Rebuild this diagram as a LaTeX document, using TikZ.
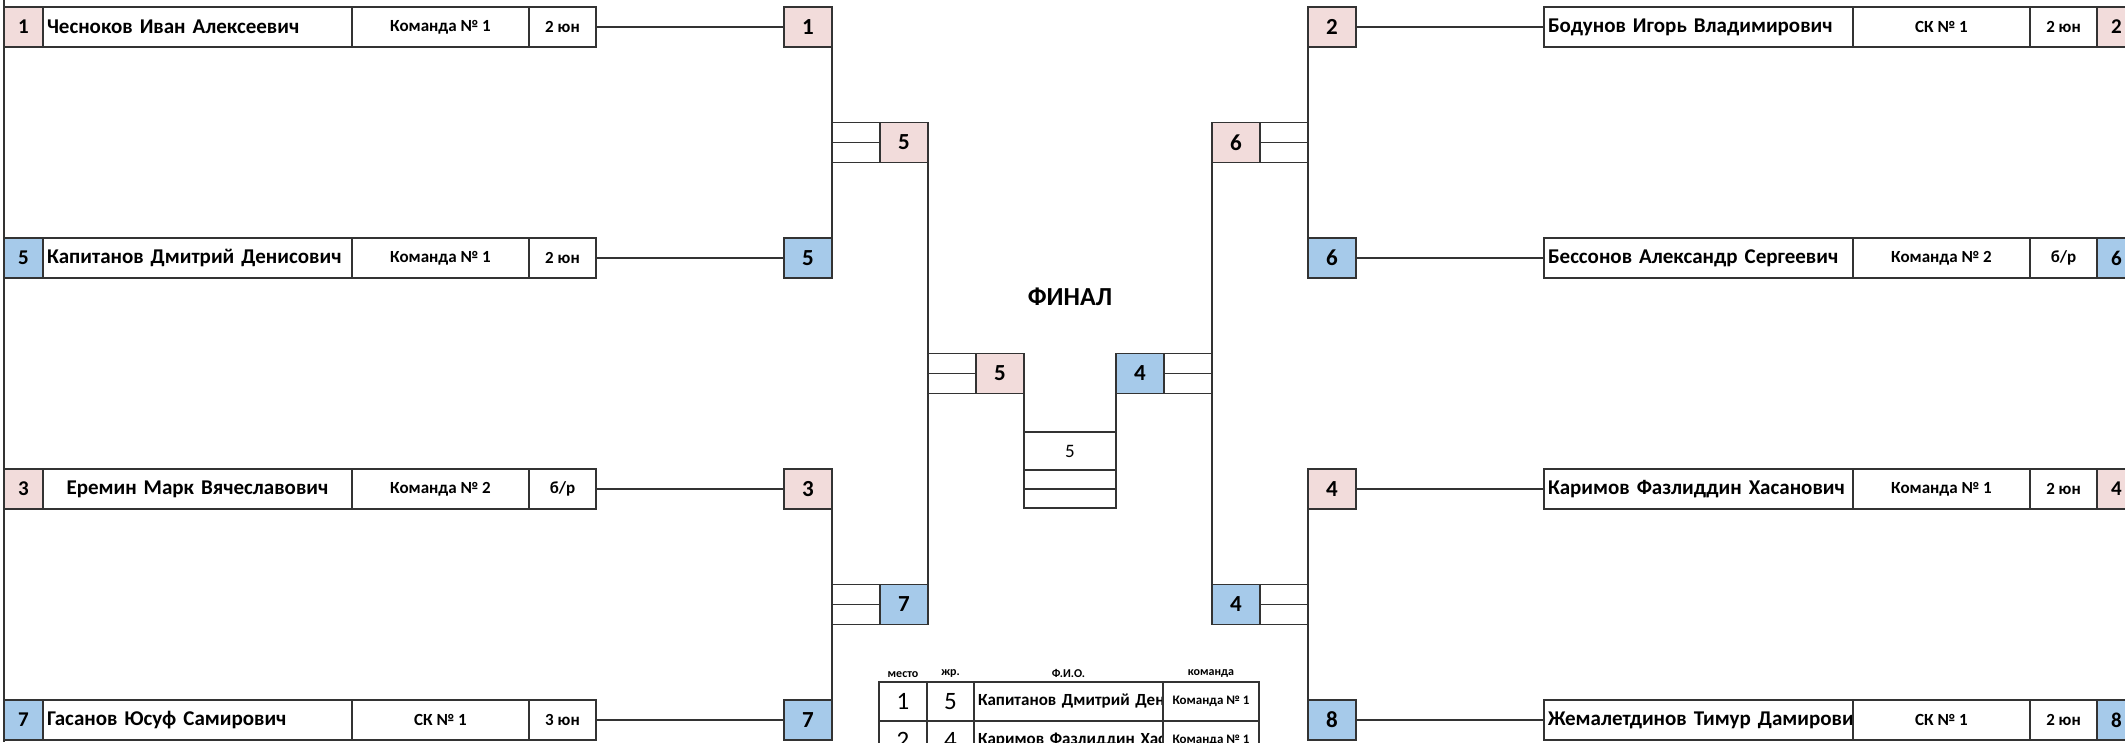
\documentclass[tikz,border=0pt]{standalone}
\usepackage{fontspec}
\setmainfont{Carlito}
\usepackage{xcolor}
\usepackage{tikz}
\usetikzlibrary{positioning}
\definecolor{ink}{HTML}{333333}
\definecolor{pinkbg}{HTML}{F2DCDB}
\definecolor{bluebg}{HTML}{A6CAEA}

\begin{document}
\begin{tikzpicture}[x=1pt,y=-1pt,
  cell/.style={draw=ink,fill=white,line width=1.6pt,minimum height=40pt,inner sep=0pt,
               outer sep=0pt,font=\bfseries\fontsize{21}{25}\selectfont},
  seed/.style={cell,minimum width=39pt},
  fio/.style={cell,text width=301pt,inner xsep=4pt,align=left},
  team/.style={cell,minimum width=177pt,font=\bfseries\fontsize{17}{20}\selectfont},
  res/.style={cell,minimum width=67pt,font=\bfseries\fontsize{17}{20}\selectfont},
  num/.style={cell,minimum width=48pt,font=\bfseries\fontsize{23}{27}\selectfont},
  half/.style={draw=ink,line width=1.6pt,minimum width=48pt,minimum height=20pt,
               inner sep=0pt,outer sep=0pt},
  pink/.style={fill=pinkbg},
  blue/.style={fill=bluebg},
  link/.style={draw=ink,line width=1.6pt},
  head/.style={font=\bfseries\fontsize{12}{14}\selectfont,inner sep=1pt},
  tcell/.style={cell,minimum height=39pt,font=\fontsize{25}{29}\selectfont}
]
\path[use as bounding box,fill=white] (0,0) rectangle (2125,742);

% left half
\node[seed,pink] (ls1) at (23.5,27) {1};
\node[fio,right=0pt of ls1] (lf1) {Чесноков Иван Алексеевич};
\node[team,right=0pt of lf1] (lt1) {Команда № 1};
\node[res,right=0pt of lt1] (lr1) {2 юн};

\node[seed,blue] (ls2) at (23.5,258) {5};
\node[fio,right=0pt of ls2] (lf2) {Капитанов Дмитрий Денисович};
\node[team,right=0pt of lf2] (lt2) {Команда № 1};
\node[res,right=0pt of lt2] (lr2) {2 юн};

\node[seed,pink] (ls3) at (23.5,489) {3};
\node[fio,align=center,right=0pt of ls3] (lf3) {Еремин Марк Вячеславович};
\node[team,right=0pt of lf3] (lt3) {Команда № 2};
\node[res,right=0pt of lt3] (lr3) {б/р};

\node[seed,blue] (ls4) at (23.5,720) {7};
\node[fio,right=0pt of ls4] (lf4) {Гасанов Юсуф Самирович};
\node[team,right=0pt of lf4] (lt4) {СК № 1};
\node[res,right=0pt of lt4] (lr4) {3 юн};

\draw[link] (ls1.north west |- 0,0) -- (ls4.south west |- 0,742);

\node[num,pink] (lb1) at (808,27) {1};
\node[num,blue] (lb2) at (808,258) {5};
\node[num,pink] (lb3) at (808,489) {3};
\node[num,blue] (lb4) at (808,720) {7};
\draw[link] (lr1) -- (lb1);
\draw[link] (lr2) -- (lb2);
\draw[link] (lr3) -- (lb3);
\draw[link] (lr4) -- (lb4);
\draw[link] (lb1.south east) -- (lb2.north east);
\draw[link] (lb3.south east) -- (lb4.north east);

\node[num,pink] (lm1) at (904,142.5) {5};
\node[half,above left=0pt of lm1.west] (lm1a) {};
\node[half,below left=0pt of lm1.west] (lm1b) {};
\node[num,blue] (lm2) at (904,604.5) {7};
\node[half,above left=0pt of lm2.west] (lm2a) {};
\node[half,below left=0pt of lm2.west] (lm2b) {};
\draw[link] (lm1.south east) -- (lm2.north east);

% right half
\node[fio,anchor=west] (rf1) at (1544,27) {Бодунов Игорь Владимирович};
\node[team,right=0pt of rf1] (rt1) {СК № 1};
\node[res,right=0pt of rt1] (rr1) {2 юн};
\node[seed,pink,right=0pt of rr1] (rs1) {2};

\node[fio,anchor=west] (rf2) at (1544,258) {Бессонов Александр Сергеевич};
\node[team,right=0pt of rf2] (rt2) {Команда № 2};
\node[res,right=0pt of rt2] (rr2) {б/р};
\node[seed,blue,right=0pt of rr2] (rs2) {6};

\node[fio,anchor=west] (rf3) at (1544,489) {Каримов Фазлиддин Хасанович};
\node[team,right=0pt of rf3] (rt3) {Команда № 1};
\node[res,right=0pt of rt3] (rr3) {2 юн};
\node[seed,pink,right=0pt of rr3] (rs3) {4};

\node[fio,anchor=west] (rf4) at (1544,720) {\makebox[301pt][l]{Жемалетдинов Тимур Дамирович}};
\node[team,right=0pt of rf4] (rt4) {СК № 1};
\node[res,right=0pt of rt4] (rr4) {2 юн};
\node[seed,blue,right=0pt of rr4] (rs4) {8};

\node[num,pink] (rb1) at (1332,27) {2};
\node[num,blue] (rb2) at (1332,258) {6};
\node[num,pink] (rb3) at (1332,489) {4};
\node[num,blue] (rb4) at (1332,720) {8};
\draw[link] (rb1) -- (rf1);
\draw[link] (rb2) -- (rf2);
\draw[link] (rb3) -- (rf3);
\draw[link] (rb4) -- (rf4);
\draw[link] (rb1.south west) -- (rb2.north west);
\draw[link] (rb3.south west) -- (rb4.north west);

\node[num,pink] (rm1) at (1236,142.5) {6};
\node[half,above right=0pt of rm1.east] (rm1a) {};
\node[half,below right=0pt of rm1.east] (rm1b) {};
\node[num,blue] (rm2) at (1236,604.5) {4};
\node[half,above right=0pt of rm2.east] (rm2a) {};
\node[half,below right=0pt of rm2.east] (rm2b) {};
\draw[link] (rm1.south west) -- (rm2.north west);

% final
\node[font=\bfseries\fontsize{26}{30}\selectfont] (fin) at (1070,297) {ФИНАЛ};
\node[num,pink] (fl) at (1000,373.5) {5};
\node[half,above left=0pt of fl.west] (fla) {};
\node[half,below left=0pt of fl.west] (flb) {};
\node[num,blue] (fr) at (1140,373.5) {4};
\node[half,above right=0pt of fr.east] (fra) {};
\node[half,below right=0pt of fr.east] (frb) {};
\node[cell,minimum width=92pt,minimum height=38pt,font=\fontsize{19}{22}\selectfont] (w1) at (1070,451) {5};
\node[cell,minimum width=92pt,minimum height=19pt,below=0pt of w1] (w2) {};
\node[cell,minimum width=92pt,minimum height=19pt,below=0pt of w2] (w3) {};
\draw[link] (fl.south east) -- (w1.north west);
\draw[link] (fr.south west) -- (w1.north east);

% places
\node[tcell,minimum width=48pt] (p1) at (903,701.5) {1};
\node[tcell,minimum width=47pt,right=0pt of p1] (j1) {5};
\node[tcell,text width=181pt,inner xsep=4pt,align=left,font=\bfseries\fontsize{17}{20}\selectfont,
      right=0pt of j1] (n1) {\makebox[181pt][l]{Капитанов Дмитрий Денисович}};
\node[tcell,minimum width=96pt,font=\bfseries\fontsize{13}{16}\selectfont,right=0pt of n1] (k1) {Команда № 1};
\node[tcell,minimum width=48pt,below=0pt of p1] (p2) {2};
\node[tcell,minimum width=47pt,right=0pt of p2] (j2) {4};
\node[tcell,text width=181pt,inner xsep=4pt,align=left,font=\bfseries\fontsize{17}{20}\selectfont,
      right=0pt of j2] (n2) {\makebox[181pt][l]{Каримов Фазлиддин Хасанович}};
\node[tcell,minimum width=96pt,font=\bfseries\fontsize{13}{16}\selectfont,right=0pt of n2] (k2) {Команда № 1};
\node[head,above=3pt of p1] (h1) {место};
\node[head,above=3pt of j1] (h2) {жр.};
\node[head,above=3pt of n1] (h3) {Ф.И.О.};
\node[head,above=3pt of k1] (h4) {команда};
\end{tikzpicture}
\end{document}
